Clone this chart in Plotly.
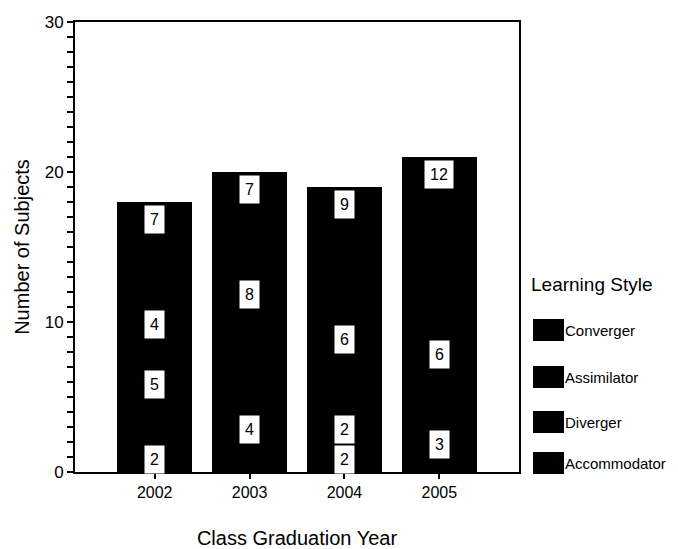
import plotly.graph_objects as go

# --- data ---
years = ["2002", "2003", "2004", "2005"]
styles = ["Accommodator", "Diverger", "Assimilator", "Converger"]  # bottom -> top
accommodator = [2, 4, 2, 3]
diverger = [5, 1, 2, 0]
assimilator = [4, 8, 6, 6]
converger = [7, 7, 9, 12]
y_ticks = [0, 10, 20, 30]

series = [accommodator, diverger, assimilator, converger]
colors = ["#000000", "#000000", "#000000", "#000000"]
FONT = "Liberation Sans, Arial, sans-serif"

# the page body has an 8px margin, so the figure is 8px smaller
OFF = 8
W, H = 678 - OFF, 549 - OFF
# plot box in page pixels
L, R, T, B = 75, 519, 22, 472


def px_x(px):
    return (px - L) / (R - L)


def px_y(py):
    return (B - py) / (B - T)


fig = go.Figure()
for name, vals, col in zip(styles, series, colors):
    fig.add_trace(go.Bar(
        x=years, y=vals, name=name, marker_color=col,
        marker_line_width=0, showlegend=False, hoverinfo="x+y+name"
    ))

# white value boxes, near the top of each segment
annotations = []
cum = [0] * len(years)
for vals in series:
    for i, v in enumerate(vals):
        cum[i] += v
        if v >= 2:
            annotations.append(dict(
                x=i, y=cum[i], xref="x", yref="y", text=str(v),
                showarrow=False, yanchor="middle", yshift=-17,
                bgcolor="white", borderpad=5,
                font=dict(family=FONT, size=16, color="black")
            ))

# legend (drawn by hand to get the large swatches)
annotations.append(dict(
    x=px_x(529), y=px_y(284), xref="paper", yref="paper", text="Learning Style",
    showarrow=False, xanchor="left", yanchor="middle",
    font=dict(family=FONT, size=19, color="black")
))
shapes = []
leg_y = [463, 422, 377, 330]  # Accommodator .. Converger
for name, col, cy in zip(styles, colors, leg_y):
    shapes.append(dict(
        type="rect", xref="paper", yref="paper",
        x0=px_x(533), x1=px_x(564), y0=px_y(cy + 11), y1=px_y(cy - 11),
        fillcolor=col, line_width=0
    ))
    annotations.append(dict(
        x=px_x(563), y=px_y(cy), xref="paper", yref="paper", text=name,
        showarrow=False, xanchor="left", yanchor="middle",
        font=dict(family=FONT, size=15, color="black")
    ))

fig.update_layout(
    width=W, height=H,
    margin=dict(l=L - OFF, r=678 - R, t=T - OFF, b=549 - B, autoexpand=False),
    barmode="stack", bargap=0.21,
    plot_bgcolor="white", paper_bgcolor="white",
    font=dict(family=FONT, size=16, color="black"),
    annotations=annotations, shapes=shapes,
)
fig.update_xaxes(
    type="category", range=[-0.84, 3.84], automargin=False,
    showline=True, linecolor="black", linewidth=2, mirror=True,
    ticks="outside", ticklen=5, tickwidth=2, tickcolor="black",
    showgrid=False, zeroline=False,
    tickfont=dict(size=16),
    title=dict(text="Class Graduation Year", font=dict(size=20), standoff=36),
)
fig.update_yaxes(
    range=[0, 30], tickvals=y_ticks, automargin=False,
    showline=True, linecolor="black", linewidth=2, mirror=True,
    ticks="outside", ticklen=6, tickwidth=2, tickcolor="black",
    minor=dict(dtick=1, ticks="outside", ticklen=6, tickwidth=2, tickcolor="black", showgrid=False),
    showgrid=False, zeroline=False,
    tickfont=dict(size=17),
    title=dict(text="Number of Subjects", font=dict(size=20), standoff=10),
)

fig.write_html("out.html")
